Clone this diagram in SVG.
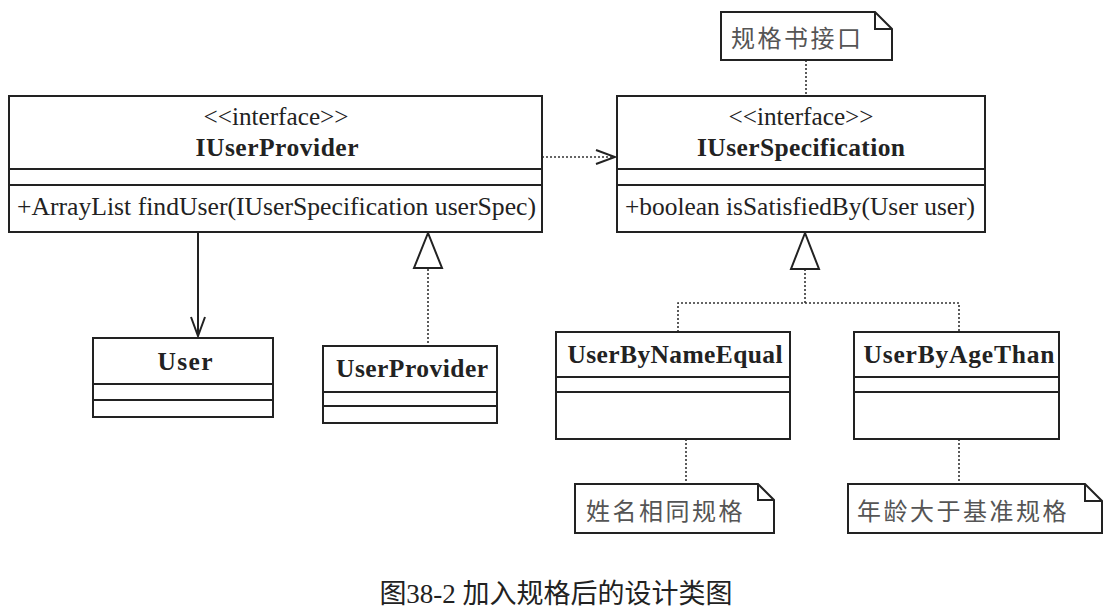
<svg xmlns="http://www.w3.org/2000/svg" width="1107" height="614" viewBox="0 0 1107 614">
<style>
.box{fill:#fff;stroke:#222;stroke-width:2}
.sep{stroke:#222;stroke-width:2;fill:none}
.dot{stroke:#333;stroke-width:1.6;stroke-dasharray:2,2;fill:none}
.solid{stroke:#222;stroke-width:2;fill:none}
.tri{fill:#fff;stroke:#222;stroke-width:2}
.reg{font-family:"Liberation Serif","Times New Roman",serif;font-size:26px;fill:#222}
.bold{font-family:"Liberation Serif","Times New Roman",serif;font-size:25.5px;font-weight:bold;fill:#222}
.cjk{font-family:"Noto Sans CJK SC","Liberation Sans",sans-serif;font-size:24px;fill:#555;letter-spacing:2.5px}
.cap{font-family:"Liberation Serif","Noto Sans CJK SC",serif;font-size:27px;fill:#222}
</style>
<defs>
<marker id="open" markerWidth="22" markerHeight="18" refX="20" refY="8" orient="auto" markerUnits="userSpaceOnUse">
<path d="M1,1 L20,8 L1,15" fill="none" stroke="#222" stroke-width="2"/>
</marker>
</defs>
<rect width="1107" height="614" fill="#fff"/>

<g id="connectors">
<line class="dot" x1="542" y1="157" x2="615" y2="157" marker-end="url(#open)"/>
<line class="solid" x1="198" y1="232" x2="198" y2="336" marker-end="url(#open)"/>
<line class="dot" x1="428" y1="269" x2="428" y2="346"/>
<polygon class="tri" points="428,233 414,268 442,268"/>
<line class="dot" x1="805" y1="269" x2="805" y2="303"/>
<polyline class="dot" points="678,332 678,303 959,303 959,332"/>
<polygon class="tri" points="805,233 791,269 819,269"/>
<line class="dot" x1="806" y1="60" x2="806" y2="96"/>
<line class="dot" x1="686" y1="439" x2="686" y2="484"/>
<line class="dot" x1="959" y1="439" x2="959" y2="484"/>
</g>

<g id="IUserProvider">
<rect class="box" x="9" y="96" width="533" height="136"/>
<line class="sep" x1="9" y1="169" x2="542" y2="169"/>
<line class="sep" x1="9" y1="185" x2="542" y2="185"/>
<text class="reg" x="276" y="125" text-anchor="middle" textLength="145" lengthAdjust="spacingAndGlyphs">&lt;&lt;interface&gt;&gt;</text>
<text class="bold" x="277" y="156" text-anchor="middle" textLength="163" lengthAdjust="spacing">IUserProvider</text>
<text class="reg" x="17" y="215" textLength="519" lengthAdjust="spacingAndGlyphs">+ArrayList findUser(IUserSpecification userSpec)</text>
</g>

<g id="IUserSpecification">
<rect class="box" x="617" y="96" width="368" height="136"/>
<line class="sep" x1="617" y1="169" x2="985" y2="169"/>
<line class="sep" x1="617" y1="185" x2="985" y2="185"/>
<text class="reg" x="801" y="125" text-anchor="middle" textLength="145" lengthAdjust="spacingAndGlyphs">&lt;&lt;interface&gt;&gt;</text>
<text class="bold" x="801" y="156" text-anchor="middle" textLength="208" lengthAdjust="spacing">IUserSpecification</text>
<text class="reg" x="625" y="215" textLength="350" lengthAdjust="spacingAndGlyphs">+boolean isSatisfiedBy(User user)</text>
</g>

<g id="note-spec">
<path class="box" d="M721,12 H875 L892,29 V60 H721 Z"/>
<path class="sep" d="M875,12 V29 H892"/>
<text class="cjk" x="731" y="47">规格书接口</text>
</g>

<g id="User">
<rect class="box" x="93" y="338" width="180" height="79"/>
<line class="sep" x1="93" y1="384" x2="273" y2="384"/>
<line class="sep" x1="93" y1="400" x2="273" y2="400"/>
<text class="bold" x="185" y="370" text-anchor="middle" textLength="55" lengthAdjust="spacing">User</text>
</g>

<g id="UserProvider">
<rect class="box" x="323" y="346" width="174" height="77"/>
<line class="sep" x1="323" y1="392" x2="497" y2="392"/>
<line class="sep" x1="323" y1="406" x2="497" y2="406"/>
<text class="bold" x="412" y="377" text-anchor="middle" textLength="152" lengthAdjust="spacing">UserProvider</text>
</g>

<g id="UserByNameEqual">
<rect class="box" x="556" y="332" width="234" height="107"/>
<line class="sep" x1="556" y1="377" x2="790" y2="377"/>
<line class="sep" x1="556" y1="392" x2="790" y2="392"/>
<text class="bold" x="675" y="363" text-anchor="middle" textLength="215" lengthAdjust="spacing">UserByNameEqual</text>
</g>

<g id="UserByAgeThan">
<rect class="box" x="854" y="332" width="205" height="107"/>
<line class="sep" x1="854" y1="377" x2="1059" y2="377"/>
<line class="sep" x1="854" y1="392" x2="1059" y2="392"/>
<text class="bold" x="959" y="363" text-anchor="middle" textLength="191" lengthAdjust="spacing">UserByAgeThan</text>
</g>

<g id="note-name">
<path class="box" d="M575,484 H758 L774,500 V533 H575 Z"/>
<path class="sep" d="M758,484 V500 H774"/>
<text class="cjk" x="586" y="520">姓名相同规格</text>
</g>

<g id="note-age">
<path class="box" d="M848,484 H1085 L1102,501 V533 H848 Z"/>
<path class="sep" d="M1085,484 V501 H1102"/>
<text class="cjk" x="857" y="520">年龄大于基准规格</text>
</g>

<text class="cap" x="556" y="603" text-anchor="middle">图38-2 加入规格后的设计类图</text>
</svg>
